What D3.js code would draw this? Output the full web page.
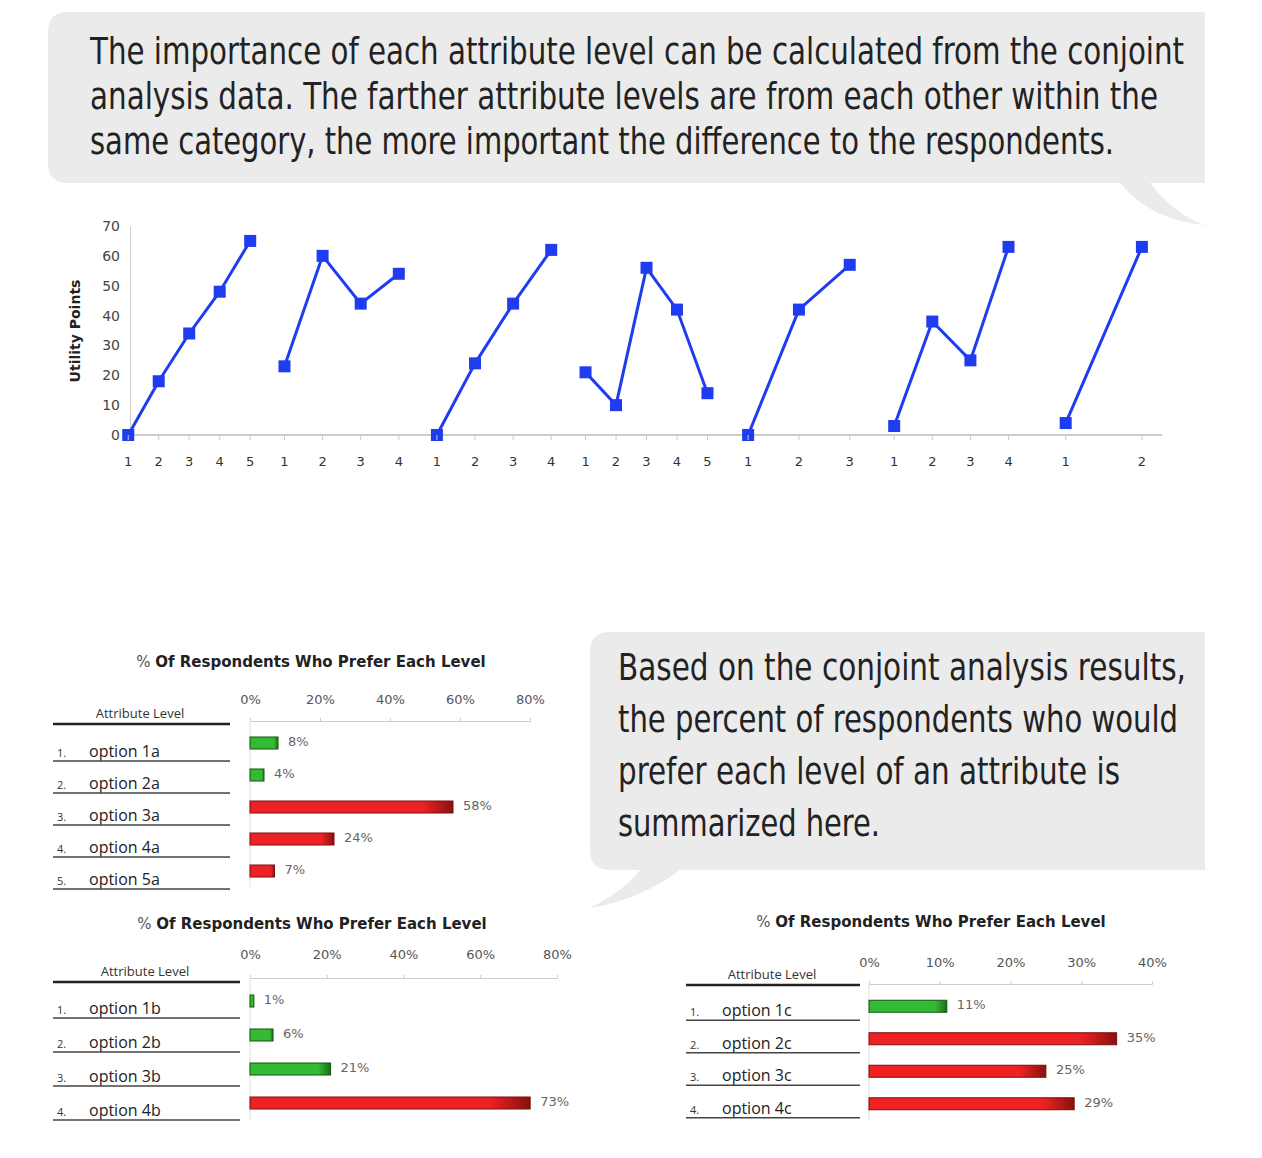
<!DOCTYPE html>
<html><head><meta charset="utf-8">
<script src="https://cdn.jsdelivr.net/npm/d3@7"></script>
<style>body{margin:0;background:#fff}svg{display:block}</style>
</head><body><svg id="c" width="1262" height="1158"></svg>
<script>
// utility points per attribute (7 attributes)
const utilGroups = [
  [0, 18, 34, 48, 65],
  [23, 60, 44, 54],
  [0, 24, 44, 62],
  [21, 10, 56, 42, 14],
  [0, 42, 57],
  [3, 38, 25, 63],
  [4, 63]
];
const utilTicks = [0, 10, 20, 30, 40, 50, 60, 70];

const labelsA = ["option 1a", "option 2a", "option 3a", "option 4a", "option 5a"];
const valuesA = [8, 4, 58, 24, 7];
const greenA = [true, true, false, false, false];
const labelsB = ["option 1b", "option 2b", "option 3b", "option 4b"];
const valuesB = [1, 6, 21, 73];
const greenB = [true, true, true, false];
const labelsC = ["option 1c", "option 2c", "option 3c", "option 4c"];
const valuesC = [11, 35, 25, 29];
const greenC = [true, false, false, false];

const topText = ["The importance of each attribute level can be calculated from the conjoint",
  "analysis data. The farther attribute levels are from each other within the",
  "same category, the more important the difference to the respondents."];
const sideText = ["Based on the conjoint analysis results,", "the percent of respondents who would",
  "prefer each level of an attribute is", "summarized here."];

const svg = d3.select("#c");
const defs = svg.append("defs");
function grad(id, light, dark) {
  const g = defs.append("linearGradient").attr("id", id).attr("x1", 0).attr("y1", 0).attr("x2", 1).attr("y2", 0);
  g.append("stop").attr("offset", "0%").attr("stop-color", light);
  g.append("stop").attr("offset", "85%").attr("stop-color", light);
  g.append("stop").attr("offset", "100%").attr("stop-color", dark);
}
grad("gG", "#33bb33", "#1a6e1a");
grad("gR", "#ee2222", "#8a1010");

const bubbleFill = "#ebebeb";
const narrow = "'DejaVu Sans Condensed','Liberation Sans Narrow',sans-serif";

// top speech bubble
svg.append("path").attr("fill", bubbleFill)
  .attr("d", "M68,12 H1205 V183 H1150 Q1175,215 1205,225 Q1150,220 1120,183 H68 Q48,183 48,163 V32 Q48,12 68,12 Z");
svg.append("g").selectAll("text").data(topText).join("text")
  .attr("x", 90).attr("y", (d, i) => 64 + i * 45)
  .attr("font-family", narrow).attr("font-size", 38).attr("fill", "#222")
  .attr("textLength", (d, i) => [1094, 1068, 1024][i]).attr("lengthAdjust", "spacingAndGlyphs")
  .text(d => d);

// side speech bubble
svg.append("path").attr("fill", bubbleFill)
  .attr("d", "M610,632 H1205 V870 H680 Q640,900 590,908 Q625,890 640,870 H610 Q590,870 590,850 V652 Q590,632 610,632 Z");
svg.append("g").selectAll("text").data(sideText).join("text")
  .attr("x", 618).attr("y", (d, i) => 680 + i * 52)
  .attr("font-family", narrow).attr("font-size", 38).attr("fill", "#222")
  .attr("textLength", (d, i) => [568, 560, 502, 262][i]).attr("lengthAdjust", "spacingAndGlyphs")
  .text(d => d);

// ---- utility line chart
const y = d3.scaleLinear().domain([0, 70]).range([435, 226]);
const gx = d3.scaleBand().domain(d3.range(utilGroups.length)).range([113, 1180]);
const lc = svg.append("g");
lc.append("g").attr("transform", "translate(130,0)")
  .call(d3.axisLeft(y).tickValues(utilTicks).tickSize(0).tickPadding(10))
  .call(g => g.select(".domain").attr("stroke", "#ccc"))
  .call(g => g.selectAll("text").attr("font-family", "Verdana,'DejaVu Sans',sans-serif").attr("font-size", 14).attr("fill", "#444"));
lc.append("line").attr("x1", 130).attr("x2", 1162).attr("y1", y(0)).attr("y2", y(0)).attr("stroke", "#ccc").attr("stroke-width", 2);
lc.append("text").attr("transform", "translate(80,331) rotate(-90)").attr("text-anchor", "middle")
  .attr("font-family", "Verdana,'DejaVu Sans',sans-serif").attr("font-weight", "bold").attr("font-size", 14).attr("fill", "#222")
  .text("Utility Points");
utilGroups.forEach((vals, gi) => {
  const px = d3.scalePoint().domain(d3.range(vals.length)).range([gx(gi), gx(gi) + gx.bandwidth()]).padding(0.5);
  const g = lc.append("g");
  g.append("path").datum(vals).attr("fill", "none").attr("stroke", "#1f3cf0").attr("stroke-width", 3)
    .attr("d", d3.line().x((d, i) => px(i)).y(d => y(d)));
  g.selectAll("rect").data(vals).join("rect")
    .attr("x", (d, i) => px(i) - 6).attr("y", d => y(d) - 6).attr("width", 12).attr("height", 12).attr("fill", "#1f3cf0");
  g.selectAll(".tk").data(vals).join("line").attr("class", "tk")
    .attr("x1", (d, i) => px(i)).attr("x2", (d, i) => px(i)).attr("y1", y(0)).attr("y2", y(0) + 5).attr("stroke", "#ccc");
  g.selectAll("text").data(vals).join("text")
    .attr("x", (d, i) => px(i)).attr("y", 466).attr("text-anchor", "middle")
    .attr("font-family", "Verdana,'DejaVu Sans',sans-serif").attr("font-size", 13).attr("fill", "#333")
    .text((d, i) => i + 1);
});

// ---- bar charts
function barChart(o) {
  const g = svg.append("g");
  const x = d3.scaleLinear().domain([0, o.max]).range([o.x0, o.x1]);
  const yb = d3.scaleBand().domain(d3.range(o.values.length)).range([o.axisY + 6, o.axisY + 6 + o.step * o.values.length]);
  g.append("text").attr("x", o.titleX).attr("y", o.titleY).attr("text-anchor", "middle")
    .attr("font-family", "Verdana,'DejaVu Sans',sans-serif").attr("font-size", 15).attr("fill", "#222")
    .call(t => { t.append("tspan").attr("fill", "#555").text("% "); t.append("tspan").attr("font-weight", "bold").text("Of Respondents Who Prefer Each Level"); });
  g.append("g").attr("transform", `translate(0,${o.axisY})`)
    .call(d3.axisTop(x).tickValues(o.ticks).tickFormat(d => d + "%").tickSize(3).tickPadding(o.tickPad))
    .call(a => a.selectAll("line,.domain").attr("stroke", "#ccc"))
    .call(a => a.selectAll("text").attr("font-family", "Verdana,'DejaVu Sans',sans-serif").attr("font-size", 13).attr("fill", "#555"));
  g.append("line").attr("x1", o.x0).attr("x2", o.x0).attr("y1", o.axisY).attr("y2", yb.range()[1]).attr("stroke", "#ddd");
  g.selectAll(".bar").data(o.values).join("rect").attr("class", "bar")
    .attr("x", x(0)).attr("y", (d, i) => yb(i) + yb.bandwidth() / 2 - 6).attr("height", 12)
    .attr("width", d => x(d) - x(0))
    .attr("fill", (d, i) => o.green[i] ? "url(#gG)" : "url(#gR)")
    .attr("stroke", (d, i) => o.green[i] ? "#145214" : "#7a0f0f").attr("stroke-width", 1);
  g.selectAll(".vl").data(o.values).join("text").attr("class", "vl")
    .attr("x", d => x(d) + 10).attr("y", (d, i) => yb(i) + yb.bandwidth() / 2 + 3)
    .attr("font-family", "Verdana,'DejaVu Sans',sans-serif").attr("font-size", 13).attr("fill", "#666")
    .text(d => d + "%");
  // table
  g.append("text").attr("x", o.hdrX).attr("y", o.hdrY).attr("text-anchor", "middle")
    .attr("font-family", "'Open Sans','DejaVu Sans',sans-serif").attr("font-size", 13).attr("fill", "#333").text("Attribute Level");
  g.append("line").attr("x1", o.tx0).attr("x2", o.tx1).attr("y1", o.hdrY + 6).attr("y2", o.hdrY + 6).attr("stroke", "#222").attr("stroke-width", 2.5);
  const rows = g.selectAll(".row").data(o.labels).join("g").attr("class", "row")
    .attr("transform", (d, i) => `translate(0,${yb(i) + yb.bandwidth() / 2 + o.labOff})`);
  rows.append("text").attr("x", o.tx0 + 4).attr("font-family", "'Open Sans','DejaVu Sans',sans-serif")
    .attr("font-size", 11).attr("fill", "#333").text((d, i) => (i + 1) + ".");
  rows.append("text").attr("x", o.tx0 + 36).attr("font-family", "'Open Sans','DejaVu Sans',sans-serif")
    .attr("font-size", 16).attr("fill", "#222").text(d => d);
  rows.append("line").attr("x1", o.tx0).attr("x2", o.tx1).attr("y1", 4).attr("y2", 4).attr("stroke", "#444").attr("stroke-width", 1.5);
}

barChart({ values: valuesA, labels: labelsA, green: greenA, max: 80, ticks: [0, 20, 40, 60, 80],
  x0: 250, x1: 530, axisY: 721, step: 32, tickPad: 14, titleX: 311, titleY: 667,
  hdrX: 140, hdrY: 718, tx0: 53, tx1: 230, labOff: 14 });
barChart({ values: valuesB, labels: labelsB, green: greenB, max: 80, ticks: [0, 20, 40, 60, 80],
  x0: 250, x1: 557, axisY: 978, step: 34, tickPad: 16, titleX: 312, titleY: 929,
  hdrX: 145, hdrY: 976, tx0: 53, tx1: 240, labOff: 13 });
barChart({ values: valuesC, labels: labelsC, green: greenC, max: 40, ticks: [0, 10, 20, 30, 40],
  x0: 869, x1: 1152, axisY: 984, step: 32.5, tickPad: 14, titleX: 931, titleY: 927,
  hdrX: 772, hdrY: 979, tx0: 686, tx1: 860, labOff: 10 });
</script></body></html>
